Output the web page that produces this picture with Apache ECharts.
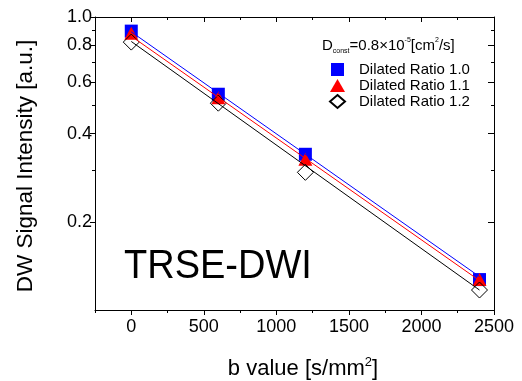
<!DOCTYPE html>
<html><head><meta charset="utf-8">
<script src="https://cdn.jsdelivr.net/npm/echarts@6/dist/echarts.min.js"></script>
<style>html,body{margin:0;padding:0;background:#fff}#c{width:522px;height:381px}</style>
</head><body><div id="c"></div>
<script>
const bValues = [0, 600, 1200, 2400];
const ratio10 = [0.895, 0.545, 0.340, 0.127];
const ratio11 = [0.88, 0.53, 0.327, 0.127];
const ratio12 = [0.821, 0.508, 0.295, 0.117];
const fitB = [0, 2400];
const fit10 = [0.89, 0.13];
const fit11 = [0.86, 0.126];
const fit12 = [0.825, 0.117];
const seriesNames = ['Dilated Ratio 1.0', 'Dilated Ratio 1.1', 'Dilated Ratio 1.2'];
const xMajorTicks = [0, 500, 1000, 1500, 2000, 2500];
const xMinorTicks = [-250, 250, 750, 1250, 1750, 2250];
const yMajorTicks = [0.2, 0.4, 0.6, 0.8, 1.0];
const yMinorTicks = [0.3, 0.5, 0.7, 0.9];

const FONT = '"Liberation Sans", Arial, sans-serif';
const pairs = (xs, ys) => xs.map((x, i) => [x, ys[i]]);

function xAxisDef(position, ticks, len, inside, showLine, labels) {
  return {
    type: 'value', min: -250, max: 2500, position: position,
    splitLine: { show: false },
    axisLine: { show: showLine, onZero: false, lineStyle: { color: '#000', width: 1 } },
    axisTick: { show: true, customValues: ticks, length: len, inside: inside, lineStyle: { color: '#000', width: 1 } },
    axisLabel: labels ? { show: true, customValues: ticks, fontSize: 18, fontFamily: FONT, color: '#000', margin: 8,
      formatter: v => String(v) } : { show: false }
  };
}
function yAxisDef(position, ticks, len, inside, showLine, labels) {
  return {
    type: 'log', logBase: 10, min: 0.1, max: 1, position: position,
    splitLine: { show: false }, minorTick: { show: false },
    axisLine: { show: showLine, onZero: false, lineStyle: { color: '#000', width: 1 } },
    axisTick: { show: true, customValues: ticks, length: len, inside: inside, lineStyle: { color: '#000', width: 1 } },
    axisLabel: labels ? { show: true, customValues: ticks, fontSize: 18, fontFamily: FONT, color: '#000', margin: 3,
      formatter: v => Number(v).toFixed(1) } : { show: false }
  };
}

const chart = echarts.init(document.getElementById('c'));
chart.setOption({
  animation: false,
  backgroundColor: '#fff',
  grid: { left: 95, right: 28, top: 17, bottom: 71 },
  xAxis: [
    xAxisDef('bottom', xMajorTicks, 5, false, true, true),
    xAxisDef('bottom', xMinorTicks, 3, false, false, false),
    xAxisDef('top', xMajorTicks, 5, true, true, false),
    xAxisDef('top', xMinorTicks, 3, true, false, false)
  ],
  yAxis: [
    yAxisDef('left', yMajorTicks, 5, false, true, true),
    yAxisDef('left', yMinorTicks, 3, false, false, false),
    yAxisDef('right', yMajorTicks, 6, true, true, false),
    yAxisDef('right', yMinorTicks, 3, true, false, false)
  ],
  legend: {
    data: [
      { name: seriesNames[0], icon: 'path://M0,0h1v1h-1z' },
      { name: seriesNames[1], icon: 'triangle' },
      { name: seriesNames[2], icon: 'diamond' }
    ],
    orient: 'vertical', left: 329, top: 62, padding: 0,
    itemWidth: 15, itemHeight: 13, itemGap: 1,
    textStyle: { fontSize: 15, fontFamily: FONT, color: '#000', padding: [0, 0, 0, 9] }
  },
  series: [
    { type: 'line', data: pairs(fitB, fit10), showSymbol: false, lineStyle: { color: '#0000ff', width: 1 }, itemStyle: { color: '#0000ff' } },
    { type: 'line', data: pairs(fitB, fit11), showSymbol: false, lineStyle: { color: '#ff0000', width: 1 }, itemStyle: { color: '#ff0000' } },
    { type: 'line', data: pairs(fitB, fit12), showSymbol: false, lineStyle: { color: '#000000', width: 1 }, itemStyle: { color: '#000' } },
    { name: seriesNames[0], type: 'scatter', data: pairs(bValues, ratio10), symbol: 'rect', symbolSize: 13,
      itemStyle: { color: '#0000ff', opacity: 1 } },
    { name: seriesNames[1], type: 'scatter', data: pairs(bValues, ratio11), symbol: 'triangle', symbolSize: [14, 13],
      itemStyle: { color: '#ff0000', opacity: 1 } },
    { name: seriesNames[2], type: 'scatter', data: pairs(bValues, ratio12), symbol: 'diamond', symbolSize: 16,
      itemStyle: { color: 'rgba(255,255,255,0)', borderColor: '#000', borderWidth: 1, opacity: 1 } }
  ],
  graphic: [
    { type: 'text', x: 26, y: 166, rotation: Math.PI / 2,
      style: { text: 'DW Signal Intensity [a.u.]', fontSize: 22.5, fontFamily: FONT, fill: '#000', align: 'center', verticalAlign: 'middle' } },
    { type: 'text', x: 303, y: 369,
      style: { text: '{t|b value [s/mm}{s|2}{t|]}', align: 'center', verticalAlign: 'middle',
        rich: {
          t: { fontSize: 22, fontFamily: FONT, fill: '#000', lineHeight: 26 },
          s: { fontSize: 13, fontFamily: FONT, fill: '#000', lineHeight: 16, verticalAlign: 'top' }
        } } },
    { type: 'text', x: 124, y: 267, scaleX: 0.95,
      style: { text: 'TRSE-DWI', fontSize: 40, fontFamily: FONT, fill: '#000', align: 'left', verticalAlign: 'middle' } },
    { type: 'text', x: 322, y: 46,
      style: { text: '{D|D}{sub|const}{t|=0.8×10}{sup|-5}{t|[cm}{sup|2}{t|/s]}', align: 'left', verticalAlign: 'middle',
        rich: {
          D: { fontSize: 15, fontFamily: FONT, fill: '#000', lineHeight: 18 },
          t: { fontSize: 15, fontFamily: FONT, fill: '#000', lineHeight: 18 },
          sub: { fontSize: 7, fontFamily: FONT, fill: '#000', lineHeight: 8, verticalAlign: 'bottom' },
          sup: { fontSize: 7, fontFamily: FONT, fill: '#000', lineHeight: 8, verticalAlign: 'top' }
        } } }
  ]
});
</script>
</body></html>
